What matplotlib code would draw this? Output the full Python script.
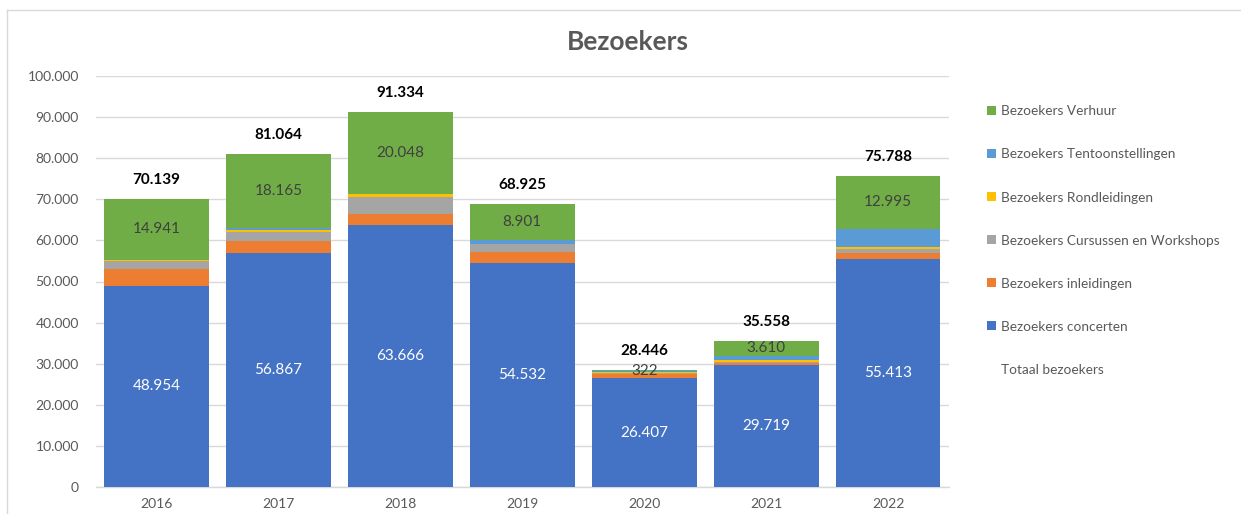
import matplotlib
matplotlib.use("Agg")
import matplotlib.pyplot as plt
from matplotlib.patches import Patch
from matplotlib.lines import Line2D

years = ["2016", "2017", "2018", "2019", "2020", "2021", "2022"]
concerten = [48954, 56867, 63666, 54532, 26407, 29719, 55413]
inleidingen = [4050, 3050, 2850, 2600, 1000, 450, 1600]
cursussen = [1900, 2100, 4100, 1950, 400, 250, 900]
rondleidingen = [250, 400, 670, 50, 200, 600, 450]
tentoonstellingen = [44, 482, 0, 892, 117, 929, 4430]
verhuur = [14941, 18165, 20048, 8901, 322, 3610, 12995]
totaal = [70139, 81064, 91334, 68925, 28446, 35558, 75788]

series_names = ["Bezoekers concerten", "Bezoekers inleidingen",
                "Bezoekers Cursussen en Workshops", "Bezoekers Rondleidingen",
                "Bezoekers Tentoonstellingen", "Bezoekers Verhuur"]
colors = ["#4472C4", "#ED7D31", "#A5A5A5", "#FFC000", "#5B9BD5", "#70AD47"]
series = [concerten, inleidingen, cursussen, rondleidingen, tentoonstellingen, verhuur]

FONT = ["Lato", "DejaVu Sans"]
plt.rcParams["font.family"] = FONT
GRAY = "#595959"

def nl(v):
    return f"{v:,}".replace(",", ".")

W, H = 1241, 514
fig = plt.figure(figsize=(W / 100, H / 100), dpi=100)
ax = fig.add_axes([95.5 / W, 1 - 487 / H, (949 - 95.5) / W, (487 - 76) / H])

x = list(range(len(years)))
bottoms = [0] * len(years)
containers = []
for vals, col, name in zip(series, colors, series_names):
    bc = ax.bar(x, vals, bottom=bottoms, width=0.86, color=col, label=name,
                linewidth=0, zorder=3)
    containers.append(bc)
    bottoms = [b + v for b, v in zip(bottoms, vals)]

ax.bar_label(containers[0], labels=[nl(v) for v in concerten], label_type="center",
             color="white", fontsize=11)
ax.bar_label(containers[-1], labels=[nl(v) for v in verhuur], label_type="center",
             color="#404040", fontsize=11)

for xi, t in zip(x, totaal):
    ax.annotate(nl(t), (xi, t), xytext=(0, 13.5), textcoords="offset points",
                ha="center", va="center", fontsize=11, fontweight="bold", color="black")

ax.set_ylim(0, 100000)
ax.set_xlim(-0.5, len(years) - 0.5)
ax.set_yticks(range(0, 100001, 10000))
ax.set_yticklabels([nl(v) for v in range(0, 100001, 10000)])
ax.set_xticks(x)
ax.set_xticklabels(years)
ax.tick_params(axis="both", length=0, colors=GRAY, labelsize=10)
ax.tick_params(axis="y", pad=12)
ax.tick_params(axis="x", pad=8)
ax.grid(axis="y", color="#D9D9D9", linewidth=1, zorder=0)
ax.set_axisbelow(True)
for s in ["top", "right", "left"]:
    ax.spines[s].set_visible(False)
ax.spines["bottom"].set_color("#D9D9D9")
ax.spines["bottom"].set_linewidth(1)

fig.text(628 / W, 1 - 42 / H, "Bezoekers", ha="center", va="center",
         fontsize=19, fontweight="bold", color=GRAY)

handles = [Patch(facecolor=c) for c in colors[::-1]]
labels = series_names[::-1]
handles.append(Line2D([], [], color="none"))
labels.append("Totaal bezoekers")
leg = fig.legend(handles, labels, loc="upper left", bbox_to_anchor=(982 / W, 1 - 100 / H),
                 frameon=False, fontsize=9.8, labelcolor=GRAY, handlelength=0.6,
                 handleheight=0.6, handletextpad=0.4, labelspacing=2.28,
                 borderaxespad=0)

# chart area border
fig.add_artist(Line2D([7 / W, 7 / W], [0, 1 - 9.5 / H], transform=fig.transFigure,
                      color="#D9D9D9", linewidth=1))
fig.add_artist(Line2D([7 / W, 1], [1 - 9.5 / H, 1 - 9.5 / H], transform=fig.transFigure,
                      color="#D9D9D9", linewidth=1))

fig.savefig("out.png", dpi=100)
